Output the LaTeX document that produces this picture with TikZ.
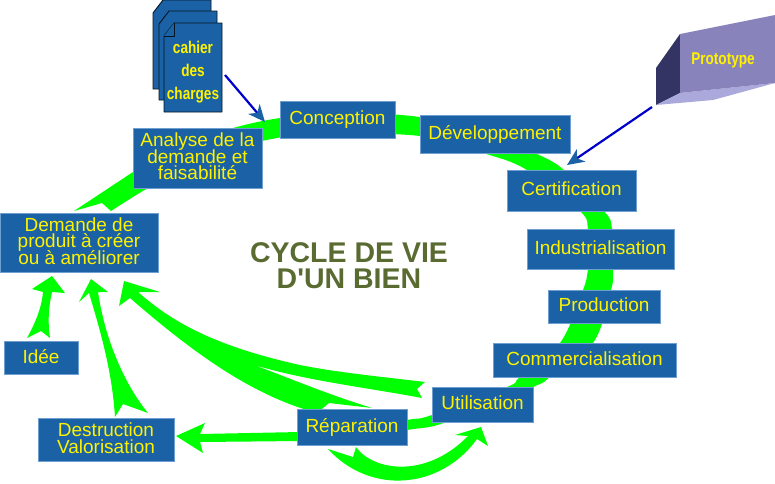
\documentclass[tikz,border=0pt]{standalone}
\usepackage{fontspec}
\setmainfont{Liberation Sans}
\newfontfamily\narrowbold[FakeStretch=0.8]{Liberation Sans Bold}
\newfontfamily\titrefont[Ligatures=TeXOff]{Liberation Sans Bold}
\usetikzlibrary{arrows.meta, backgrounds}
\definecolor{boxblue}{HTML}{1A62A5}
\definecolor{boxedge}{HTML}{6F9FD0}
\definecolor{flowgreen}{HTML}{00FF00}
\definecolor{titleolive}{HTML}{5A6B32}
\definecolor{protofront}{HTML}{8884BB}
\definecolor{protodark}{HTML}{343464}
\definecolor{protolight}{HTML}{ABA8DB}
\newcommand{\etapefont}{\fontsize{19}{16.5}\selectfont\setlength{\lineskiplimit}{-20pt}}
\tikzset{>=stealth,
  etape/.style={fill=boxblue, draw=boxedge, line width=.8pt, text=yellow, inner sep=0pt, align=center,
    text depth=3pt, font=\etapefont},
  flow/.style={fill=flowgreen, draw=none},
  page/.style={fill=boxblue, draw=black!80!boxblue, line width=.9pt, line join=round},
  petit/.style={text=yellow, inner sep=0pt, align=center, font=\narrowbold\fontsize{17}{23}\selectfont},
  apport/.style={draw=blue!80!black, line width=2.2pt, -{Stealth[length=17pt,width=15pt,inset=5pt,color=boxblue]}}
}
\begin{document}
\begin{tikzpicture}[x=1pt,y=-1pt]
\useasboundingbox (0,0) rectangle (775,483);

% les etapes
\node[etape, minimum width=158, minimum height=59] (demande) at (79,242.5) {Demande de\\produit à créer\\ou à améliorer};
\node[etape, minimum width=129, minimum height=60] (analyse) at (197.5,158) {Analyse de la\\demande et\\faisabilité};
\node[etape, minimum width=115, minimum height=37] (conception) at (337.5,119.5) {Conception};
\node[etape, minimum width=150, minimum height=38] (developpement) at (495,134) {Développement};
\node[etape, minimum width=129, minimum height=41] (certification) at (571.5,190.5) {Certification};
\node[etape, minimum width=147, minimum height=40] (industrialisation) at (600.5,249) {Industrialisation};
\node[etape, minimum width=112, minimum height=33] (production) at (604,306.5) {Production};
\node[etape, minimum width=183, minimum height=34] (commercialisation) at (584.5,360) {Commercialisation};
\node[etape, minimum width=101, minimum height=35] (utilisation) at (482.5,404.5) {Utilisation};
\node[etape, minimum width=110, minimum height=36] (reparation) at (352,427) {Réparation};
\node[etape, minimum width=136, minimum height=43] (destruction) at (106,439.5) {Destruction\\Valorisation};
\node[etape, minimum width=74, minimum height=33] (idee) at (41,357.5) {Idée};

\node[text=titleolive, align=center, font=\titrefont\fontsize{28.5}{26}\selectfont] (titre) at (349,266) {CYCLE DE VIE\\D'UN BIEN};

% les feuilles du cahier
\draw[page] (163,0)--(211,0)--(211,89)--(153,89)--(153,13)--cycle;
\draw[page] (169,11)--(217,11)--(217,100)--(159,100)--(159,24)--cycle;
\draw[page] (174,23)--(222,23)--(222,112)--(164,112)--(164,36)--cycle;
\draw[page] (174,23)--(174,36)--(164,36);
\node[petit] (cahier) at (193,72.5) {cahier\\des\\charges};

% le prototype
\fill[protodark] (680,34)--(656,68)--(656,105)--(680,93)--cycle;
\fill[protolight] (656,105)--(680,93)--(775,83)--(713,100)--cycle;
\fill[protofront] (680,34)--(775,15)--(775,83)--(680,93)--cycle;
\node[petit, font=\narrowbold\fontsize{17}{20}\selectfont] (prototype) at (723,60) {Prototype};

\coordinate (cahierfin) at (225,75);
\coordinate (conceptionpt) at (265,122);
\coordinate (prototypefin) at (652,107);
\coordinate (certificationpt) at (567,165);
\draw[apport] (cahierfin)--(conceptionpt);
\draw[apport] (prototypefin)--(certificationpt);

\coordinate (pointedemande) at (74,211);
\coordinate (pointeidee) at (52,276);
\coordinate (pointedestr) at (91,279);
\coordinate (pointeretour) at (124,281);
\coordinate (pointevalor) at (176,436);
\coordinate (pointeutil) at (481,427);

\begin{scope}[on background layer]
% le grand cycle
\fill[flow] (pointedemande)--(102,203)--(111,211)
  -- plot[smooth, tension=.6] coordinates {(111,211)(148,188)(200,160)(262,141)(320,134)(420,136)(483,153)(527,170)(580,211)(588,229)(590,250)(588,269)(583,290)(560,343)(520,377)(507,387)(432,415)(407,420)(340,432)}
  -- plot[smooth, tension=.6] coordinates {(340,440)(407,430)(447,422)(533,387)(550,377)(593,343)(611,290)(613,269)(612,229)(604,211)(564,170)(535,153)(483,130)(420,117)(340,112)(280,118)(233,128)(180,145)(133,172)}
  -- cycle;

% idee vers demande
\fill[flow] (27,338) .. controls (37,320) and (42,305) .. (43,292)--(32,289)--(pointeidee)--(65,293)--(52,292)
  .. controls (48,310) and (48,325) .. (50,338)--(41,331)--cycle;
% destruction vers demande
\fill[flow] (115,417) .. controls (112,370) and (100,330) .. (89,293)--(79,302)--(pointedestr)--(108,292)--(98,292)
  .. controls (105,340) and (125,385) .. (148,413)--(123,404)--cycle;
% reparation et utilisation vers demande
\fill[flow] (317,413) .. controls (250,395) and (190,350) .. (130,298)--(119,306)--(pointeretour)--(160,292)--(138,292)
  .. controls (170,320) and (210,345) .. (300,365)
  .. controls (340,373) and (385,377) .. (425,382)--(417,389)--(422,398)
  .. controls (370,388) and (300,380) .. (248,363)
  .. controls (275,372) and (320,392) .. (372,408)--(329,403)--cycle;
% reparation vers destruction
\fill[flow] (300,432)--(200,434)--(205,423)--(pointevalor)--(203,453)--(200,442)--(300,441)--cycle;
% reparation vers utilisation
\fill[flow] (328,449)--(353,457)--(356,447) .. controls (372,470) and (425,480) .. (468,436)
  --(455,435)--(pointeutil)--(488,446)--(477,439)
  .. controls (440,490) and (370,495) .. (328,449)--cycle;
\end{scope}
\end{tikzpicture}
\end{document}
